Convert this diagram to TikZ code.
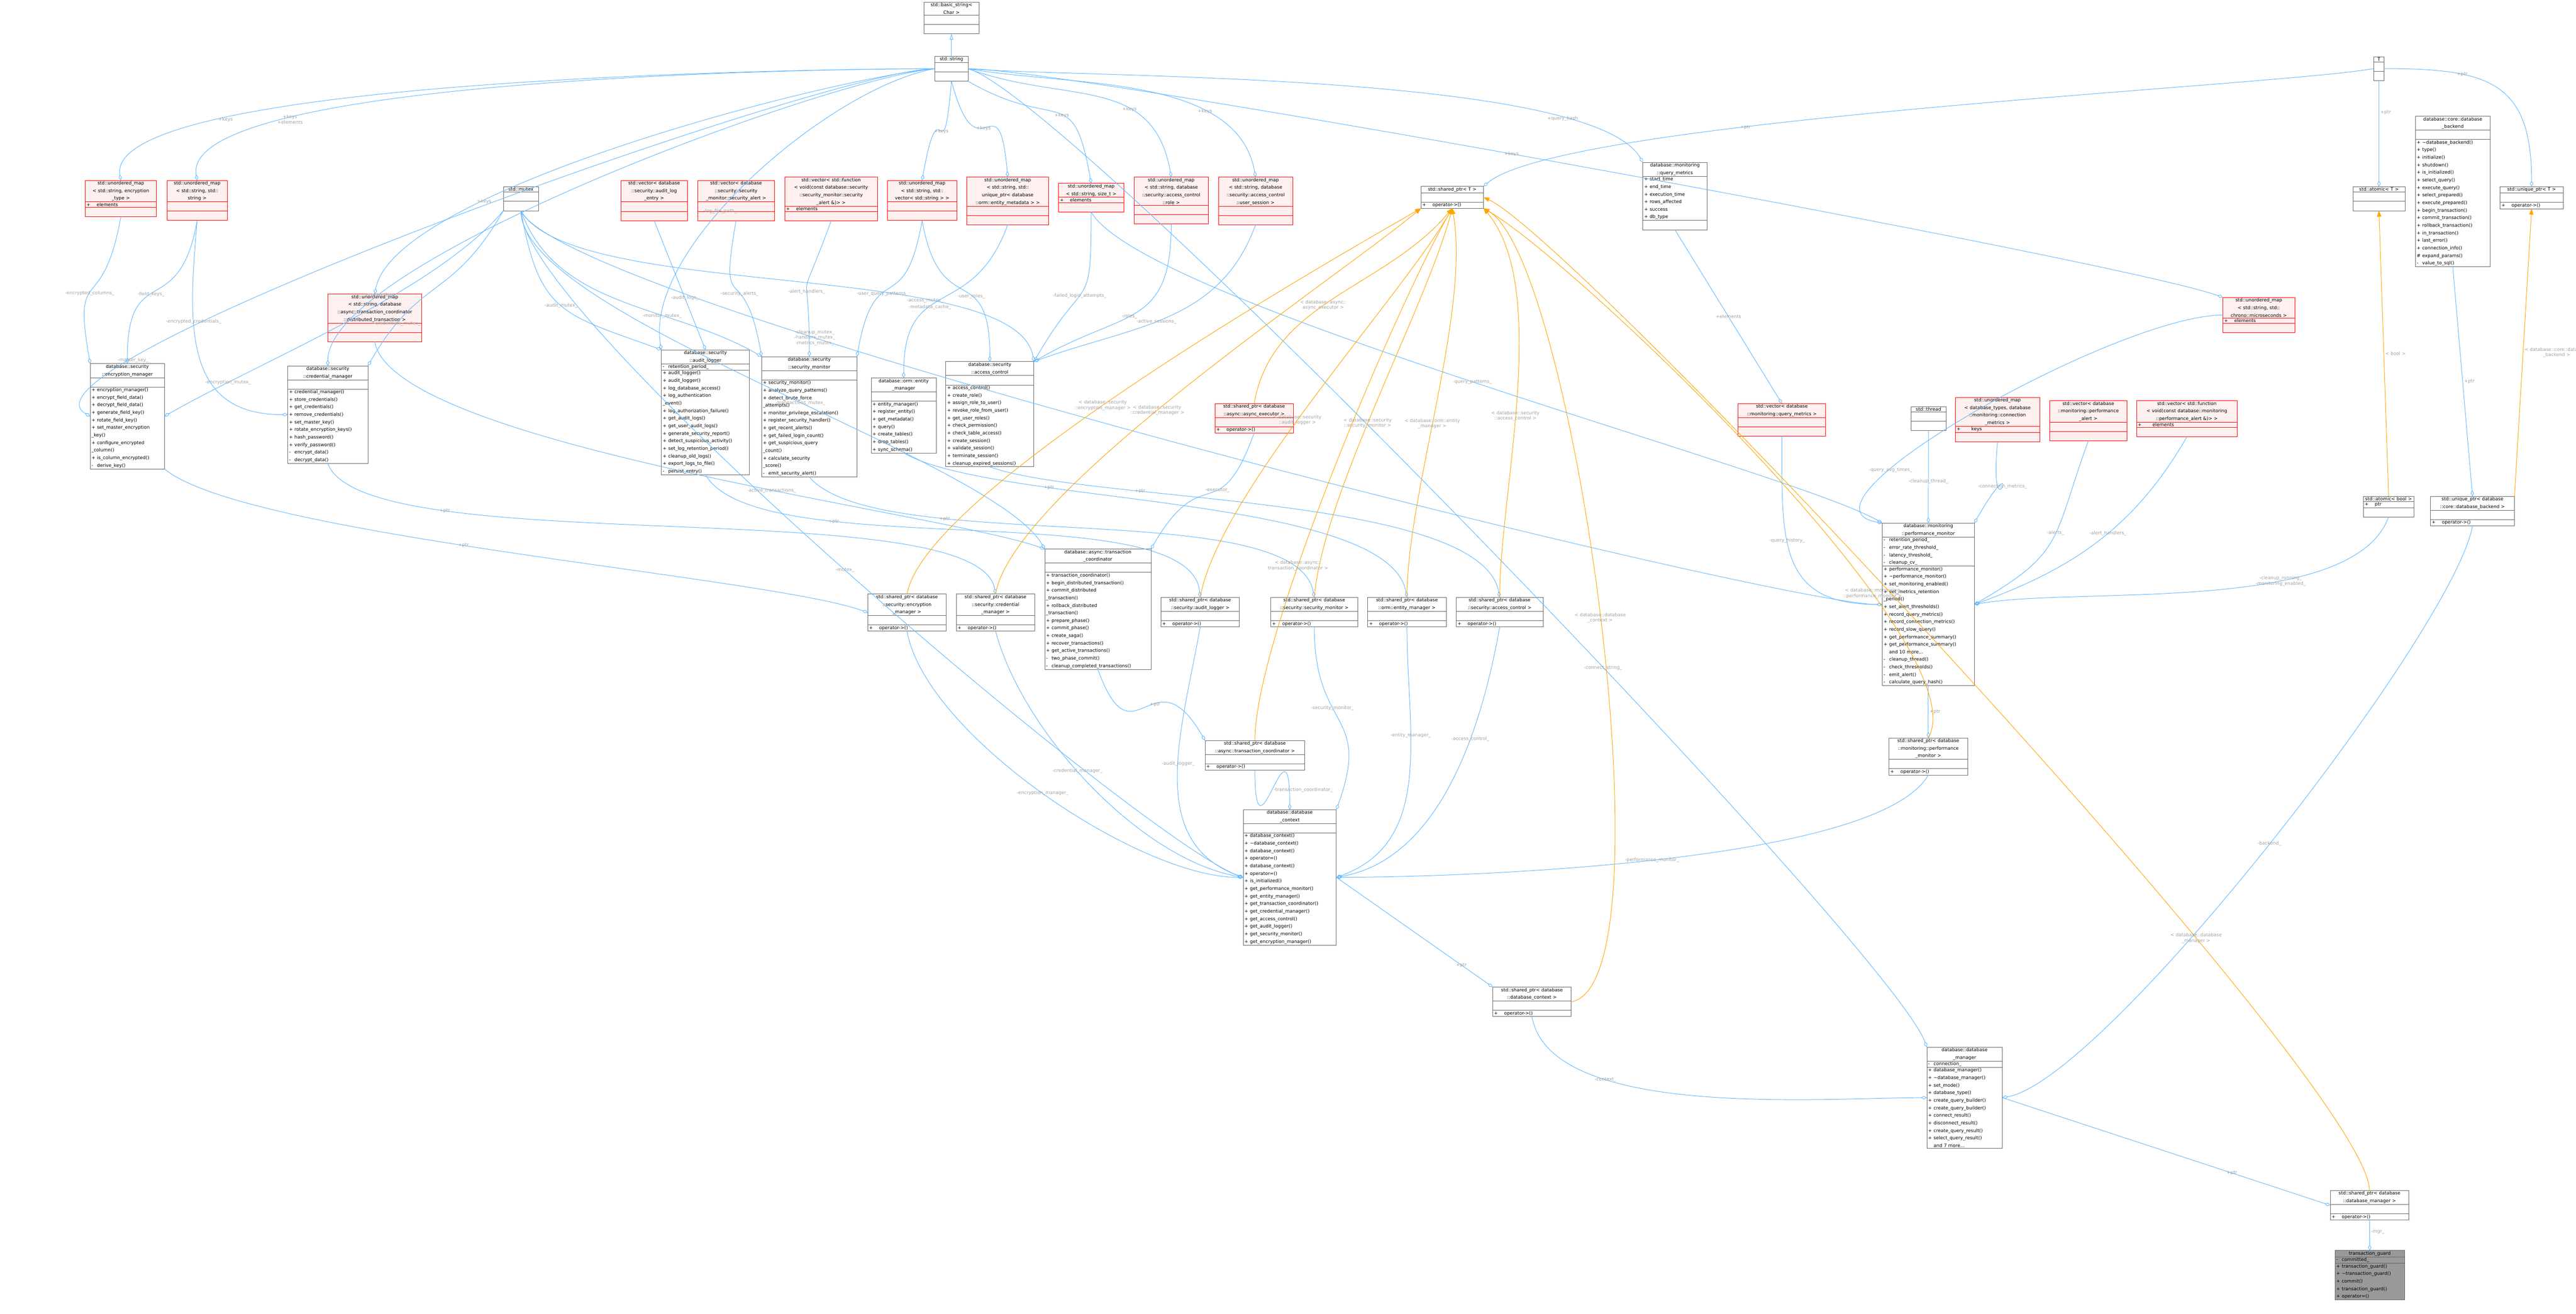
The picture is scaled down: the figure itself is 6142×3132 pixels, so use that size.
\documentclass[tikz,border=0pt]{standalone}
\usepackage{fontspec}
\setmainfont{DejaVu Sans}
\usetikzlibrary{shapes.multipart,arrows.meta}
\definecolor{eblue}{HTML}{63B8FF}
\definecolor{eorange}{HTML}{FFA500}
\definecolor{lgray}{HTML}{A0A0A0}
\definecolor{boxgray}{HTML}{666666}
\definecolor{redfill}{HTML}{FFF0F0}
\definecolor{guardgray}{HTML}{999999}
\newcommand\fs{\fontsize{11}{18}\selectfont\raggedright}
\newcommand\lfs{\fontsize{11}{13}\selectfont}
\newcommand\T[1]{{\centering #1\par}}
\newcommand\M[2]{\hangindent=1.2em\hangafter=1\noindent\makebox[1.2em][l]{#1}#2\par}
\newcommand\E{\strut}
\tikzset{
 cb/.style={rectangle split, rectangle split parts=3, draw=boxgray, line width=0.25pt, fill=white, anchor=north west, inner xsep=3pt, inner ysep=2pt, font=\fs},
 rb/.style={cb, draw=red, fill=redfill},
 gb/.style={cb, fill=guardgray},
 agg/.style={draw=eblue, line width=0.3pt, -{Diamond[open,length=3.5pt,width=2pt]}},
 inh/.style={draw=eblue, line width=0.3pt, -{Triangle[open,length=3.5pt,width=2pt]}},
 tmpl/.style={draw=eorange, line width=0.3pt, -{Triangle[length=3.5pt,width=2.6pt]}},
 lbl/.style={font=\lfs, text=lgray, align=center},
 c/.style 2 args={to path={.. controls +({-(#1)}:250) and +({-(#2)}:250) .. (\tikztotarget) \tikztonodes}},
}
\begin{document}
\catcode`\_=12
\begin{tikzpicture}[scale=0.25,x=1pt,y=-1pt,every node/.append style={transform shape}]
\useasboundingbox (0,0) rectangle (6142,3132);
% ---------- top row
\node[cb,text width=125pt] (basicStr) at (2203,5) {\T{std::basic_string<\\ Char >}\nodepart{two}\E\nodepart{three}\E};
\node[cb,text width=73pt] (str) at (2229,134) {\T{std::string}\nodepart{two}\E\nodepart{three}\E};
\node[cb,text width=18pt] (T) at (5660,135) {\T{T}\nodepart{two}\E\nodepart{three}\E};
\node[rb,text width=164pt] (umapEnc) at (203,430) {\T{std::unordered_map\\< std::string, encryption\\_type >}\nodepart{two}\M{+}{\quad elements}\nodepart{three}\E};
\node[rb,text width=138pt] (umapSS) at (398,430) {\T{std::unordered_map\\< std::string, std::\\string >}\nodepart{two}\E\nodepart{three}\E};
\node[cb,text width=78pt] (mutex) at (1200,445) {\T{std::mutex}\nodepart{two}\E\nodepart{three}\E};
\node[rb,text width=153pt] (vecAudit) at (1480,430) {\T{std::vector< database\\::security::audit_log\\_entry >}\nodepart{two}\E\nodepart{three}\E};
\node[rb,text width=178pt] (vecAlert) at (1663,430) {\T{std::vector< database\\::security::security\\_monitor::security_alert >}\nodepart{two}\E\nodepart{three}\E};
\node[rb,text width=215pt] (vecFnAlert) at (1871,422) {\T{std::vector< std::function\\< void(const database::security\\::security_monitor::security\\_alert \&)> >}\nodepart{two}\M{+}{\quad elements}\nodepart{three}\E};
\node[rb,text width=159pt] (umapPat) at (2116,430) {\T{std::unordered_map\\< std::string, std::\\vector< std::string > >}\nodepart{two}\E\nodepart{three}\E};
\node[rb,text width=189pt] (umapMeta) at (2305,422) {\T{std::unordered_map\\< std::string, std::\\unique_ptr< database\\::orm::entity_metadata > >}\nodepart{two}\E\nodepart{three}\E};
\node[rb,text width=149pt] (umapSizet) at (2524,437) {\T{std::unordered_map\\< std::string, size_t >}\nodepart{two}\M{+}{\quad elements}\nodepart{three}\E};
\node[rb,text width=171pt] (umapRole) at (2704,422) {\T{std::unordered_map\\< std::string, database\\::security::access_control\\::role >}\nodepart{two}\E\nodepart{three}\E};
\node[rb,text width=171pt] (umapSess) at (2905,422) {\T{std::unordered_map\\< std::string, database\\::security::access_control\\::user_session >}\nodepart{two}\E\nodepart{three}\E};
\node[cb,text width=143pt] (spT) at (3388,444) {\T{std::shared_ptr< T >}\nodepart{two}\E\nodepart{three}\M{+}{\quad operator->()}};
\node[cb,text width=147pt] (qm) at (3917,387) {\T{database::monitoring\\::query_metrics}\nodepart{two}\M{+}{start_time}\M{+}{end_time}\M{+}{execution_time}\M{+}{rows_affected}\M{+}{success}\M{+}{db_type}\nodepart{three}\E};
\node[cb,text width=118pt] (atomicT) at (5610,445) {\T{std::atomic< T >}\nodepart{two}\E\nodepart{three}\E};
\node[cb,text width=172pt] (backend) at (5759,277) {\T{database::core::database\\_backend}\nodepart{two}\E\nodepart{three}\M{+}{\textasciitilde database_backend()}\M{+}{type()}\M{+}{initialize()}\M{+}{shutdown()}\M{+}{is_initialized()}\M{+}{select_query()}\M{+}{execute_query()}\M{+}{select_prepared()}\M{+}{execute_prepared()}\M{+}{begin_transaction()}\M{+}{commit_transaction()}\M{+}{rollback_transaction()}\M{+}{in_transaction()}\M{+}{last_error()}\M{+}{connection_info()}\M{\#}{expand_params()}\M{-}{value_to_sql()}};
\node[cb,text width=144pt] (uniqueT) at (5961,445) {\T{std::unique_ptr< T >}\nodepart{two}\E\nodepart{three}\M{+}{\quad operator->()}};
\node[rb,text width=165pt] (umapMicro) at (5300,709) {\T{std::unordered_map\\< std::string, std::\\chrono::microseconds >}\nodepart{two}\M{+}{\quad elements}\nodepart{three}\E};
\node[rb,text width=217pt] (umapDist) at (782,701) {\T{std::unordered_map\\< std::string, database\\::async::transaction_coordinator\\::distributed_transaction >}\nodepart{two}\E\nodepart{three}\E};
% ---------- classes
\node[cb,text width=171pt] (encMgr) at (215,867) {\T{database::security\\::encryption_manager}\nodepart{two}\E\nodepart{three}\M{+}{encryption_manager()}\M{+}{encrypt_field_data()}\M{+}{decrypt_field_data()}\M{+}{generate_field_key()}\M{+}{rotate_field_key()}\M{+}{set_master_encryption\\_key()}\M{+}{configure_encrypted\\_column()}\M{+}{is_column_encrypted()}\M{-}{derive_key()}};
\node[cb,text width=185pt] (credMgr) at (686,872) {\T{database::security\\::credential_manager}\nodepart{two}\E\nodepart{three}\M{+}{credential_manager()}\M{+}{store_credentials()}\M{+}{get_credentials()}\M{+}{remove_credentials()}\M{+}{set_master_key()}\M{+}{rotate_encryption_keys()}\M{+}{hash_password()}\M{+}{verify_password()}\M{-}{encrypt_data()}\M{-}{decrypt_data()}};
\node[cb,text width=204pt] (audit) at (1577,834) {\T{database::security\\::audit_logger}\nodepart{two}\M{-}{retention_period_}\nodepart{three}\M{+}{audit_logger()}\M{+}{audit_logger()}\M{+}{log_database_access()}\M{+}{log_authentication\\_event()}\M{+}{log_authorization_failure()}\M{+}{get_audit_logs()}\M{+}{get_user_audit_logs()}\M{+}{generate_security_report()}\M{+}{detect_suspicious_activity()}\M{+}{set_log_retention_period()}\M{+}{cleanup_old_logs()}\M{+}{export_logs_to_file()}\M{-}{persist_entry()}};
\node[cb,text width=221pt] (secMon) at (1816,850) {\T{database::security\\::security_monitor}\nodepart{two}\E\nodepart{three}\M{+}{security_monitor()}\M{+}{analyze_query_patterns()}\M{+}{detect_brute_force\\_attempts()}\M{+}{monitor_privilege_escalation()}\M{+}{register_security_handler()}\M{+}{get_recent_alerts()}\M{+}{get_failed_login_count()}\M{+}{get_suspicious_query\\_count()}\M{+}{calculate_security\\_score()}\M{-}{emit_security_alert()}};
\node[cb,text width=149pt] (entity) at (2077,901) {\T{database::orm::entity\\_manager}\nodepart{two}\E\nodepart{three}\M{+}{entity_manager()}\M{+}{register_entity()}\M{+}{get_metadata()}\M{+}{query()}\M{+}{create_tables()}\M{+}{drop_tables()}\M{+}{sync_schema()}};
\node[cb,text width=204pt] (access) at (2255,862) {\T{database::security\\::access_control}\nodepart{two}\E\nodepart{three}\M{+}{access_control()}\M{+}{create_role()}\M{+}{assign_role_to_user()}\M{+}{revoke_role_from_user()}\M{+}{get_user_roles()}\M{+}{check_permission()}\M{+}{check_table_access()}\M{+}{create_session()}\M{+}{validate_session()}\M{+}{terminate_session()}\M{+}{cleanup_expired_sessions()}};
\node[rb,text width=180pt] (spExec) at (2897,962) {\T{std::shared_ptr< database\\::async::async_executor >}\nodepart{two}\E\nodepart{three}\M{+}{\quad operator->()}};
\node[rb,text width=203pt] (vecQM) at (4144,962) {\T{std::vector< database\\::monitoring::query_metrics >}\nodepart{two}\E\nodepart{three}\E};
\node[cb,text width=78pt] (thread) at (4556,969) {\T{std::thread}\nodepart{two}\E\nodepart{three}\E};
\node[rb,text width=195pt] (umapConn) at (4662,947) {\T{std::unordered_map\\< database_types, database\\::monitoring::connection\\_metrics >}\nodepart{two}\M{+}{\qquad keys}\nodepart{three}\E};
\node[rb,text width=178pt] (vecPAlert) at (4887,955) {\T{std::vector< database\\::monitoring::performance\\_alert >}\nodepart{two}\E\nodepart{three}\E};
\node[rb,text width=234pt] (vecFnPAlert) at (5094,955) {\T{std::vector< std::function\\< void(const database::monitoring\\::performance_alert \&)> >}\nodepart{two}\M{+}{\qquad elements}\nodepart{three}\E};
\node[cb,text width=114pt] (atomicBool) at (5635,1183) {\T{std::atomic< bool >}\nodepart{two}\M{+}{\quad ptr}\nodepart{three}\E};
\node[cb,text width=194pt] (uniqueDB) at (5795,1183) {\T{std::unique_ptr< database\\::core::database_backend >}\nodepart{two}\E\nodepart{three}\M{+}{\quad operator->()}};
\node[cb,text width=213pt] (perfMon) at (4488,1247) {\T{database::monitoring\\::performance_monitor}\nodepart{two}\M{-}{retention_period_}\M{-}{error_rate_threshold_}\M{-}{latency_threshold_}\M{-}{cleanup_cv_}\nodepart{three}\M{+}{performance_monitor()}\M{+}{\textasciitilde performance_monitor()}\M{+}{set_monitoring_enabled()}\M{+}{set_metrics_retention\\_period()}\M{+}{set_alert_thresholds()}\M{+}{record_query_metrics()}\M{+}{record_connection_metrics()}\M{+}{record_slow_query()}\M{+}{get_performance_summary()}\M{+}{get_performance_summary()}\M{}{and 10 more...}\M{-}{cleanup_thread()}\M{-}{check_thresholds()}\M{-}{emit_alert()}\M{-}{calculate_query_hash()}};
\node[cb,text width=181pt] (spEnc) at (2069,1416) {\T{std::shared_ptr< database\\::security::encryption\\_manager >}\nodepart{two}\E\nodepart{three}\M{+}{\quad operator->()}};
\node[cb,text width=181pt] (spCred) at (2280,1416) {\T{std::shared_ptr< database\\::security::credential\\_manager >}\nodepart{two}\E\nodepart{three}\M{+}{\quad operator->()}};
\node[cb,text width=247pt] (trans) at (2491,1309) {\T{database::async::transaction\\_coordinator}\nodepart{two}\E\nodepart{three}\M{+}{transaction_coordinator()}\M{+}{begin_distributed_transaction()}\M{+}{commit_distributed\\_transaction()}\M{+}{rollback_distributed\\_transaction()}\M{+}{prepare_phase()}\M{+}{commit_phase()}\M{+}{create_saga()}\M{+}{recover_transactions()}\M{+}{get_active_transactions()}\M{-}{two_phase_commit()}\M{-}{cleanup_completed_transactions()}};
\node[cb,text width=181pt] (spAudit) at (2768,1424) {\T{std::shared_ptr< database\\::security::audit_logger >}\nodepart{two}\E\nodepart{three}\M{+}{\quad operator->()}};
\node[cb,text width=201pt] (spSecMon) at (3030,1424) {\T{std::shared_ptr< database\\::security::security_monitor >}\nodepart{two}\E\nodepart{three}\M{+}{\quad operator->()}};
\node[cb,text width=181pt] (spEntity) at (3261,1424) {\T{std::shared_ptr< database\\::orm::entity_manager >}\nodepart{two}\E\nodepart{three}\M{+}{\quad operator->()}};
\node[cb,text width=201pt] (spAccess) at (3472,1424) {\T{std::shared_ptr< database\\::security::access_control >}\nodepart{two}\E\nodepart{three}\M{+}{\quad operator->()}};
\node[cb,text width=232pt] (spTrans) at (2873,1765) {\T{std::shared_ptr< database\\::async::transaction_coordinator >}\nodepart{two}\E\nodepart{three}\M{+}{\quad operator->()}};
\node[cb,text width=181pt] (spPerf) at (4504,1759) {\T{std::shared_ptr< database\\::monitoring::performance\\_monitor >}\nodepart{two}\E\nodepart{three}\M{+}{\quad operator->()}};
\node[cb,text width=216pt] (ctx) at (2964,1930) {\T{database::database\\_context}\nodepart{two}\E\nodepart{three}\M{+}{database_context()}\M{+}{\textasciitilde database_context()}\M{+}{database_context()}\M{+}{operator=()}\M{+}{database_context()}\M{+}{operator=()}\M{+}{is_initialized()}\M{+}{get_performance_monitor()}\M{+}{get_entity_manager()}\M{+}{get_transaction_coordinator()}\M{+}{get_credential_manager()}\M{+}{get_access_control()}\M{+}{get_audit_logger()}\M{+}{get_security_monitor()}\M{+}{get_encryption_manager()}};
\node[cb,text width=181pt] (spCtx) at (3559,2353) {\T{std::shared_ptr< database\\::database_context >}\nodepart{two}\E\nodepart{three}\M{+}{\quad operator->()}};
\node[cb,text width=174pt] (dbMgr) at (4594,2496) {\T{database::database\\_manager}\nodepart{two}\M{-}{connection_}\nodepart{three}\M{+}{database_manager()}\M{+}{\textasciitilde database_manager()}\M{+}{set_mode()}\M{+}{database_type()}\M{+}{create_query_builder()}\M{+}{create_query_builder()}\M{+}{connect_result()}\M{+}{disconnect_result()}\M{+}{create_query_result()}\M{+}{select_query_result()}\M{}{and 7 more...}};
\node[cb,text width=181pt] (spMgr) at (5556,2838) {\T{std::shared_ptr< database\\::database_manager >}\nodepart{two}\E\nodepart{three}\M{+}{\quad operator->()}};
\node[gb,text width=160pt] (guard) at (5567,2981) {\T{transaction_guard}\nodepart{two}\M{-}{committed_}\nodepart{three}\M{+}{transaction_guard()}\M{+}{\textasciitilde transaction_guard()}\M{+}{commit()}\M{+}{transaction_guard()}\M{+}{operator=()}};
% ---------- inheritance
\draw[inh] (str.north) -- (basicStr.south);
% ---------- string members
\draw[agg] (str.west) to[c={180}{150}] node[lbl,pos=.8]{-master_key_} (encMgr.west);
\draw[agg] (str.west) to[c={180}{100}] node[lbl,pos=.75]{+keys} (umapEnc.north);
\draw[agg] (str.west) to[c={180}{100}] node[lbl,pos=.75]{+keys\\+elements} (umapSS.north);
\draw[agg] (str.west) to[c={185}{90}] node[lbl,pos=.8]{-master_key_} (credMgr.north);
\draw[agg] (str.west) to[c={190}{100}] node[lbl,pos=.6]{-log_file_path_} (audit.north west);
\draw[agg] (str.south) to[c={-95}{80}] node[lbl,pos=.45]{+keys} (umapPat.north);
\draw[agg] (str.south) to[c={-75}{95}] node[lbl,pos=.45]{+keys} (umapMeta.north);
\draw[agg] (str.south east) to[c={-30}{100}] node[lbl,pos=.55]{+keys} (umapSizet.north);
\draw[agg] (str.east) to[c={-20}{100}] node[lbl,pos=.65]{+keys} (umapRole.north);
\draw[agg] (str.east) to[c={-10}{100}] node[lbl,pos=.7]{+keys} (umapSess.north);
\draw[agg] (str.east) to[c={-5}{120}] node[lbl,pos=.8]{+query_hash} (qm.north west);
\draw[agg] (str.east) to[c={0}{160}] node[lbl,pos=.45]{+keys} (umapMicro.north west);
\draw[agg] (str.west) to[c={185}{80}] node[lbl,pos=.7]{+keys} (umapDist.north);
\draw[agg] (str.east) to[c={-15}{110}] node[lbl,pos=.6]{-connect_string_} (dbMgr.north west);
% ---------- mutex
\draw[agg] (mutex.south west) to[c={-130}{30}] node[lbl,pos=.8]{-encryption_mutex_} (encMgr.east);
\draw[agg] (mutex.south west) to[c={-120}{60}] node[lbl,pos=.8]{-credentials_mutex_} (credMgr.north east);
\draw[agg] (mutex.south) to[c={-80}{160}] node[lbl,pos=.5]{-audit_mutex_} (audit.north west);
\draw[agg] (mutex.south) to[c={-70}{150}] node[lbl,pos=.65]{-monitor_mutex_} (secMon.north west);
\draw[agg] (mutex.south) to[c={-60}{100}] node[lbl,pos=.7]{-access_mutex_} (access.north east);
\draw[agg] (mutex.south) to[c={-90}{120}] node[lbl,pos=.55]{-transactions_mutex_} (trans.north west);
\draw[agg] (mutex.south) to[c={-65}{180}] node[lbl,pos=.3]{-cleanup_mutex_\\-handlers_mutex_\\-metrics_mutex_} (perfMon.west);
\draw[agg] (mutex.south) to[c={-90}{160}] node[lbl,pos=.5]{-mutex_} (ctx.west);
% ---------- containers to classes
\draw[agg] (umapEnc.south) to[c={-100}{100}] node[lbl,pos=.55]{-encrypted_columns_} (encMgr.north west);
\draw[agg] (umapSS.south) to[c={-100}{90}] node[lbl,pos=.55]{-field_keys_} (encMgr.north);
\draw[agg] (umapSS.south) to[c={-95}{180}] node[lbl,pos=.35]{-encrypted_credentials_} (credMgr.west);
\draw[agg] (umapDist.south) to[c={-80}{160}] node[lbl,pos=.6]{-active_transactions_} (trans.north west);
\draw[agg] (vecAudit.south) -- node[lbl,pos=.6]{-audit_logs_} (audit.north);
\draw[agg] (vecAlert.south) to[c={-100}{100}] node[lbl,pos=.6]{-security_alerts_} (secMon.north west);
\draw[agg] (vecFnAlert.south) to[c={-110}{90}] node[lbl,pos=.6]{-alert_handlers_} (secMon.north);
\draw[agg] (umapPat.south) to[c={-100}{80}] node[lbl,pos=.6]{-user_query_patterns_} (secMon.north east);
\draw[agg] (umapPat.south) to[c={-80}{90}] node[lbl,pos=.6]{-user_roles_} (access.north);
\draw[agg] (umapMeta.south) to[c={-110}{90}] node[lbl,pos=.6]{-metadata_cache_} (entity.north);
\draw[agg] (umapSizet.south) to[c={-90}{60}] node[lbl,pos=.55]{-failed_login_attempts_} (access.north east);
\draw[agg] (umapRole.south) to[c={-90}{30}] node[lbl,pos=.55]{-roles_} (access.north east);
\draw[agg] (umapSess.south) to[c={-110}{20}] node[lbl,pos=.55]{-active_sessions_} (access.north east);
\draw[agg] (umapSizet.south) to[c={-60}{150}] node[lbl,pos=.5]{-query_patterns_} (perfMon.north west);
\draw[agg] (spExec.south) to[c={-110}{60}] node[lbl,pos=.4]{-executor_} (trans.north east);
\draw[agg] (qm.south) -- node[lbl,pos=.5]{+elements} (vecQM.north);
\draw[agg] (vecQM.south) to[c={-90}{180}] node[lbl,pos=.4]{-query_history_} (perfMon.west);
\draw[agg] (umapMicro.west) to[c={180}{170}] node[lbl,pos=.7]{-query_avg_times_} (perfMon.north west);
\draw[agg] (thread.south) -- node[lbl,pos=.55]{-cleanup_thread_} (perfMon.north);
\draw[agg] (umapConn.south) to[c={-95}{60}] node[lbl,pos=.55]{-connection_metrics_} (perfMon.north east);
\draw[agg] (vecPAlert.south) to[c={-110}{30}] node[lbl,pos=.45]{-alerts_} (perfMon.east);
\draw[agg] (vecFnPAlert.south) to[c={-120}{20}] node[lbl,pos=.45]{-alert_handlers_} (perfMon.east);
\draw[agg] (atomicBool.south) to[c={-110}{10}] node[lbl,pos=.35]{-cleanup_running_\\-monitoring_enabled_} (perfMon.east);
% ---------- +ptr
\draw[agg] (T.west) to[c={190}{40}] node[lbl,pos=.65]{+ptr} (spT.north east);
\draw[agg] (T.south) -- node[lbl,pos=.3,right]{+ptr} (atomicT.north);
\draw[agg] (T.east) to[c={0}{90}] node[lbl,pos=.3]{+ptr} (uniqueT.north);
\draw[agg] (backend.south) -- node[lbl,pos=.5,right]{+ptr} (uniqueDB.north);
\draw[agg] (encMgr.south east) to[c={-40}{160}] node[lbl,pos=.45]{+ptr} (spEnc.west);
\draw[agg] (credMgr.south) to[c={-70}{100}] node[lbl,pos=.25]{+ptr} (spCred.north);
\draw[agg] (audit.south) to[c={-60}{95}] node[lbl,pos=.3]{+ptr} (spAudit.north);
\draw[agg] (secMon.south) to[c={-50}{100}] node[lbl,pos=.3]{+ptr} (spSecMon.north);
\draw[agg] (entity.south) to[c={-30}{100}] node[lbl,pos=.3]{+ptr} (spEntity.north);
\draw[agg] (access.south) to[c={-20}{100}] node[lbl,pos=.3]{+ptr} (spAccess.north);
\draw[agg] (trans.south) to[c={-70}{120}] node[lbl,pos=.6]{+ptr} (spTrans.north west);
\draw[agg] (perfMon.south) -- node[lbl,pos=.5,right]{+ptr} (spPerf.north);
\draw[agg] (ctx.east) -- node[lbl,pos=.8]{+ptr} (spCtx.north west);
\draw[agg] (dbMgr.east) -- node[lbl,pos=.7]{+ptr} (spMgr.west);
% ---------- members of context / manager
\draw[agg] (spEnc.south) to[c={-80}{180}] node[lbl,pos=.5]{-encryption_manager_} (ctx.west);
\draw[agg] (spCred.south) to[c={-75}{170}] node[lbl,pos=.45]{-credential_manager_} (ctx.west);
\draw[agg] (spAudit.south) to[c={-100}{160}] node[lbl,pos=.45]{-audit_logger_} (ctx.west);
\draw[agg] (spTrans.south) to[c={-90}{90}] node[lbl,pos=.5,right]{-transaction_coordinator_} (ctx.north);
\draw[agg] (spSecMon.south) to[c={-90}{70}] node[lbl,pos=.4]{-security_monitor_} (ctx.north east);
\draw[agg] (spEntity.south) to[c={-90}{20}] node[lbl,pos=.35]{-entity_manager_} (ctx.east);
\draw[agg] (spAccess.south) to[c={-100}{10}] node[lbl,pos=.35]{-access_control_} (ctx.east);
\draw[agg] (spPerf.south) to[c={-120}{0}] node[lbl,pos=.5]{-performance_monitor_} (ctx.east);
\draw[agg] (spCtx.south) to[c={-80}{180}] node[lbl,pos=.3]{-context_} (dbMgr.west);
\draw[agg] (uniqueDB.south) to[c={-100}{10}] node[lbl,pos=.5]{-backend_} (dbMgr.east);
\draw[agg] (spMgr.south) -- node[lbl,pos=.4,right]{-mgr_} (guard.north);
% ---------- template instances
\draw[tmpl] (spEnc.north) to[c={80}{-150}] node[lbl,pos=.45]{< database::security\\::encryption_manager >} (spT.south west);
\draw[tmpl] (spCred.north) to[c={80}{-140}] node[lbl,pos=.45]{< database::security\\::credential_manager >} (spT.south west);
\draw[tmpl] (spExec.north) to[c={80}{-130}] node[lbl,pos=.45]{< database::async::\\async_executor >} (spT.south);
\draw[tmpl] (spAudit.north) to[c={80}{-120}] node[lbl,pos=.45]{< database::security\\::audit_logger >} (spT.south);
\draw[tmpl] (spSecMon.north) to[c={85}{-105}] node[lbl,pos=.45]{< database::security\\::security_monitor >} (spT.south);
\draw[tmpl] (spEntity.north) to[c={90}{-80}] node[lbl,pos=.45]{< database::orm::entity\\_manager >} (spT.south);
\draw[tmpl] (spAccess.north) to[c={90}{-50}] node[lbl,pos=.45]{< database::security\\::access_control >} (spT.south east);
\draw[tmpl] (spTrans.north) to[c={90}{-120}] node[lbl,pos=.35]{< database::async::\\transaction_coordinator >} (spT.south);
\draw[tmpl] (spPerf.north) to[c={60}{-30}] node[lbl,pos=.3]{< database::monitoring\\::performance_monitor >} (spT.south east);
\draw[tmpl] (spCtx.east) to[c={10}{-30}] node[lbl,pos=.5]{< database::database\\_context >} (spT.south east);
\draw[tmpl] (spMgr.north) to[c={90}{-25}] node[lbl,pos=.3]{< database::database\\_manager >} (spT.east);
\draw[tmpl] (atomicBool.north) -- node[lbl,pos=.5,right]{< bool >} (atomicT.south);
\draw[tmpl] (uniqueDB.north east) -- node[lbl,pos=.5,right]{< database::core::database\\_backend >} (uniqueT.south);
\end{tikzpicture}
\end{document}
